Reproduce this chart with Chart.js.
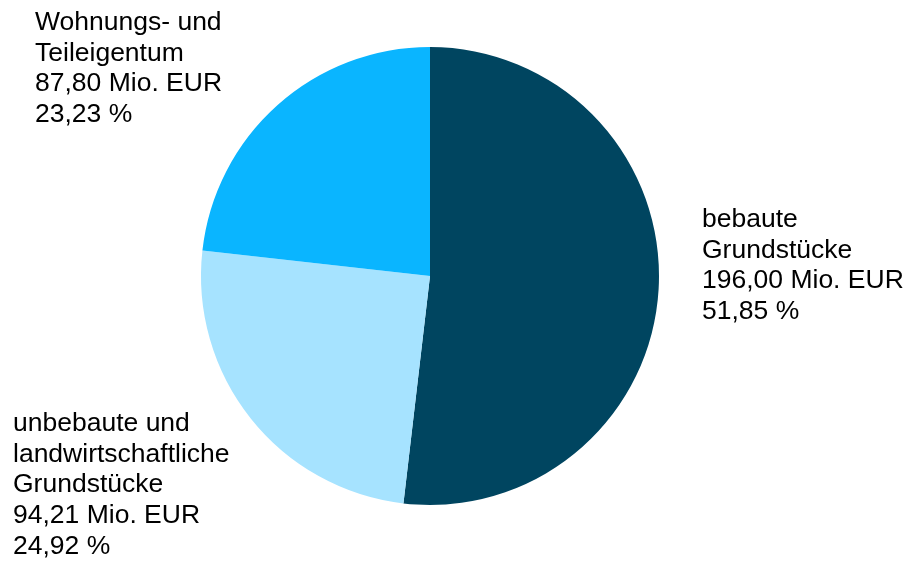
<!DOCTYPE html>
<html>
<head>
<meta charset="utf-8">
<script src="https://cdn.jsdelivr.net/npm/chart.js@4"></script>
<style>
html,body{margin:0;padding:0;background:#fff;}
#wrap{width:907px;height:561px;position:relative;}
</style>
</head>
<body>
<div id="wrap"><canvas id="c" width="907" height="561"></canvas></div>
<script>
const categories = [
  ["bebaute", "Grundstücke"],
  ["unbebaute und", "landwirtschaftliche", "Grundstücke"],
  ["Wohnungs- und", "Teileigentum"]
];
const values = [196.00, 94.21, 87.80];
const unit = "Mio. EUR";
const colors = ["#004560", "#a6e3ff", "#0ab5ff"];

const fmt = (v) => v.toFixed(2).replace('.', ',');
const total = values.reduce((a, b) => a + b, 0);

const labelPlugin = {
  id: 'outsideLabels',
  afterDatasetsDraw(chart, args, opts) {
    const ctx = chart.ctx;
    const meta = chart.getDatasetMeta(0);
    ctx.save();
    ctx.font = opts.font;
    ctx.fillStyle = opts.color;
    ctx.textAlign = 'left';
    ctx.textBaseline = 'alphabetic';
    meta.data.forEach((arc, i) => {
      const off = opts.offsets[i];
      const lines = categories[i].concat([
        fmt(values[i]) + ' ' + unit,
        fmt(values[i] / total * 100) + ' %'
      ]);
      const x0 = arc.x + off[0];
      const y0 = arc.y + off[1];
      lines.forEach((ln, k) => {
        ctx.fillText(ln, x0, y0 + k * opts.lineHeight);
      });
    });
    ctx.restore();
  }
};

new Chart(document.getElementById('c'), {
  type: 'pie',
  data: {
    labels: categories.map(c => c.join(' ')),
    datasets: [{
      data: values,
      backgroundColor: colors,
      borderWidth: 0,
      hoverOffset: 0,
      offset: 0
    }]
  },
  options: {
    responsive: false,
    animation: false,
    events: [],
    layout: { padding: { top: 47, bottom: 56, left: 0, right: 47 } },
    plugins: {
      legend: { display: false },
      tooltip: { enabled: false },
      outsideLabels: {
        font: '26.5px "Liberation Sans", Arial, sans-serif',
        color: '#000',
        lineHeight: 30.7,
        offsets: [[272, -49], [-417, 155], [-395, -246]]
      }
    }
  },
  plugins: [labelPlugin]
});
</script>
</body>
</html>
